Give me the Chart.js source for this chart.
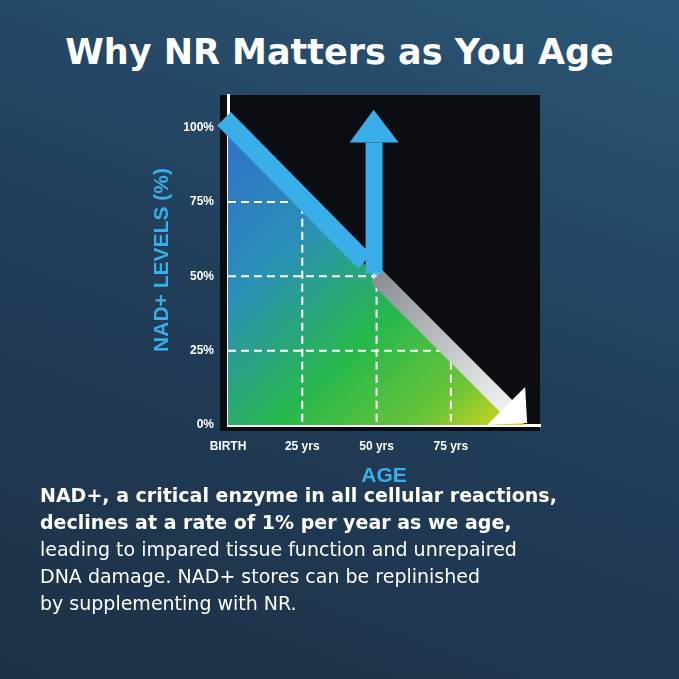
<!DOCTYPE html>
<html><head><meta charset="utf-8">
<script src="https://cdn.jsdelivr.net/npm/chart.js@4"></script>
<style>
html,body{margin:0;padding:0}
body{width:679px;height:679px;overflow:hidden;position:relative;
 background:linear-gradient(20deg,#1d3147 0%,#213d58 50%,#2b5676 100%);font-family:"DejaVu Sans",sans-serif}
#title{position:absolute;top:32px;left:0;width:679px;text-align:center;color:#fff;font:bold 35px "DejaVu Sans",sans-serif}
#wrap{position:absolute;left:0;top:0;width:679px;height:679px}
#txt{position:absolute;left:40px;top:482px;width:630px;color:#fff;font-size:19px;line-height:27px}
#txt b{font-weight:bold}
</style></head><body>
<div id="title">Why NR Matters as You Age</div>
<div id="wrap"><canvas id="c" width="679" height="679"></canvas></div>
<div id="txt"><b>NAD+, a critical enzyme in all cellular reactions,<br>declines at a rate of 1% per year as we age,</b><br>leading to impared tissue function and unrepaired<br>DNA damage. NAD+ stores can be replinished<br>by supplementing with NR.</div>
<script>
// data
const ages = [0, 25, 50, 75, 100];
const nadLevels = [100, 75, 50, 25, 0];
const markerAges = [0, 25, 50, 75];
const markerLevels = [100, 75, 50, 25];
const xTickLabels = {0: 'BIRTH', 25: '25 yrs', 50: '50 yrs', 75: '75 yrs'};
const yTicks = [0, 25, 50, 75, 100];

const BLUE = '#3aaee8';

const decor = {
  id: 'decor',
  beforeDraw(chart) {
    const {ctx, chartArea: a} = chart;
    ctx.save();
    ctx.fillStyle = '#0a0e13';
    ctx.fillRect(a.left - 8, a.top, a.right - a.left + 8, a.bottom - a.top + 6);
    ctx.restore();
  },
  afterDatasetsDraw(chart) {
    const {ctx, scales: {x, y}} = chart;
    ctx.save();
    // dashed guides
    ctx.strokeStyle = '#fff'; ctx.lineWidth = 2; ctx.setLineDash([8, 5]);
    markerAges.forEach((ag, i) => {
      if (ag === 0) return;
      const px = x.getPixelForValue(ag), py = y.getPixelForValue(markerLevels[i]);
      ctx.beginPath(); ctx.moveTo(x.left, py); ctx.lineTo(px, py); ctx.lineTo(px, y.bottom); ctx.stroke();
    });
    ctx.setLineDash([]);
    // white arrow
    const sx = x.getPixelForValue(50), sy = y.getPixelForValue(50);
    const ex = x.getPixelForValue(100), ey = y.getPixelForValue(0);
    const g = ctx.createLinearGradient(sx, sy, ex, ey);
    g.addColorStop(0, '#8a8f94'); g.addColorStop(1, '#ffffff');
    const bx = ex - 16, by = ey - 16;
    ctx.strokeStyle = g; ctx.lineWidth = 17;
    ctx.beginPath(); ctx.moveTo(sx, sy); ctx.lineTo(bx, by); ctx.stroke();
    ctx.fillStyle = '#fff';
    ctx.beginPath(); ctx.moveTo(ex + 2, ey - 2); ctx.lineTo(bx - 22, by + 16); ctx.lineTo(bx + 16, by - 22); ctx.closePath(); ctx.fill();
    // blue band + up arrow
    const p0x = x.getPixelForValue(0) - 4, p0y = y.getPixelForValue(103);
    const kx = x.getPixelForValue(46), ky = y.getPixelForValue(55);
    ctx.strokeStyle = BLUE; ctx.lineWidth = 19; ctx.lineCap = 'butt';
    ctx.beginPath(); ctx.moveTo(p0x, p0y); ctx.lineTo(kx, ky); ctx.stroke();
    ctx.fillStyle = BLUE;
    const cx = x.getPixelForValue(49);
    ctx.fillRect(cx - 8, y.getPixelForValue(95), 17, ky - y.getPixelForValue(95) + 12);
    ctx.beginPath();
    ctx.moveTo(cx - 24, y.getPixelForValue(95)); ctx.lineTo(cx + 25, y.getPixelForValue(95));
    ctx.lineTo(cx, y.getPixelForValue(106)); ctx.closePath(); ctx.fill();
    ctx.restore();
  }
};

new Chart(document.getElementById('c'), {
  type: 'line',
  data: {
    datasets: [{
      data: ages.map((a, i) => ({x: a, y: nadLevels[i]})),
      borderColor: 'rgba(0,0,0,0)', pointRadius: 0, fill: 'origin',
      backgroundColor: (c) => {
        const a = c.chart.chartArea; if (!a) return BLUE;
        const g = c.chart.ctx.createLinearGradient(a.left, a.top + 40, a.left + 280, a.bottom);
        g.addColorStop(0, '#2f72c8'); g.addColorStop(0.3, '#2a8fb8');
        g.addColorStop(0.6, '#27b84c'); g.addColorStop(0.85, '#6cc437'); g.addColorStop(1, '#d4d61e');
        return g;
      }
    }, {
      data: markerAges.map((a, i) => ({x: a, y: markerLevels[i]})),
      showLine: false, pointRadius: 3.5, pointBorderWidth: 1.5,
      pointBackgroundColor: BLUE, pointBorderColor: '#fff', order: -1
    }]
  },
  options: {
    responsive: false, animation: false, devicePixelRatio: 1,
    layout: {padding: {left: 150, top: 95, right: 139, bottom: 190}},
    plugins: {legend: {display: false}, tooltip: {enabled: false}},
    scales: {
      x: {
        type: 'linear', min: 0, max: 105,
        afterBuildTicks: s => { s.ticks = Object.keys(xTickLabels).map(v => ({value: +v})); },
        afterFit: s => { s.height = 64; },
        ticks: {color: '#fff', font: {size: 12, weight: 'bold'}, padding: 6, callback: v => xTickLabels[v]},
        grid: {display: false},
        border: {color: '#fff', width: 3},
        title: {display: true, text: 'AGE', color: BLUE, font: {size: 21, weight: 'bold'}, padding: 0}
      },
      y: {
        min: 0, max: 111,
        afterBuildTicks: s => { s.ticks = yTicks.map(v => ({value: v})); },
        afterFit: s => { s.width = 78; },
        ticks: {color: '#fff', font: {size: 12, weight: 'bold'}, padding: 6, callback: v => v + '%'},
        grid: {display: false},
        border: {color: '#fff', width: 3},
        title: {display: true, text: 'NAD+ LEVELS (%)', color: BLUE, font: {size: 21, weight: 'bold'}, padding: 0}
      }
    }
  },
  plugins: [decor]
});
</script>
</body></html>
